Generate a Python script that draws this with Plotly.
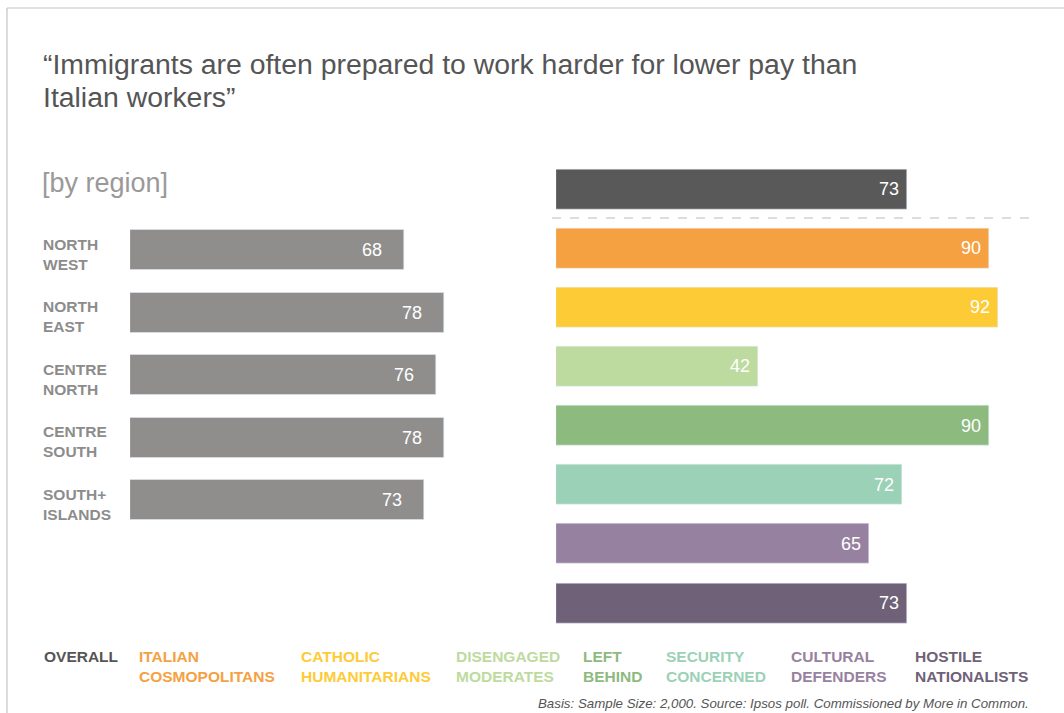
import plotly.graph_objects as go

W, H = 1064, 713

# ---- data ----
regions = ["NORTH<br>WEST", "NORTH<br>EAST", "CENTRE<br>NORTH", "CENTRE<br>SOUTH", "SOUTH+<br>ISLANDS"]
region_values = [68, 78, 76, 78, 73]

segments = ["OVERALL", "ITALIAN<br>COSMOPOLITANS", "CATHOLIC<br>HUMANITARIANS", "DISENGAGED<br>MODERATES",
            "LEFT<br>BEHIND", "SECURITY<br>CONCERNED", "CULTURAL<br>DEFENDERS", "HOSTILE<br>NATIONALISTS"]
segment_values = [73, 90, 92, 42, 90, 72, 65, 73]
segment_colors = ["#595959", "#f5a142", "#fdcb36", "#bddb9e", "#8dba7f", "#9bd1b6", "#9781a0", "#6f6178"]
legend_text_colors = ["#555555", "#f5a142", "#fdcb36", "#bddb9e", "#8dba7f", "#9bd1b6", "#9781a0", "#6f6178"]
legend_x_px = [42, 137, 299, 454, 581, 664, 789, 913]

region_color = "#8f8e8c"

title_lines = ["“Immigrants are often prepared to work harder for lower pay than", "Italian workers”"]
subtitle = "[by region]"
footnote = "Basis: Sample Size: 2,000. Source: Ipsos poll. Commissioned by More in Common."

FONT = "Liberation Sans, Arial, Helvetica, sans-serif"


def px_x(p):
    return p / W


def px_y(p):
    return 1 - p / H


fig = go.Figure()

fig.add_trace(go.Bar(
    x=region_values, y=regions, orientation="h", marker_color=region_color,
    width=0.64, xaxis="x", yaxis="y", hoverinfo="skip", showlegend=False,
))
fig.add_trace(go.Bar(
    x=segment_values, y=segments, orientation="h", marker_color=segment_colors,
    width=0.676, xaxis="x2", yaxis="y2", hoverinfo="skip", showlegend=False,
))

annotations = []
# value labels
for r, v in zip(regions, region_values):
    annotations.append(dict(x=v, y=r, xref="x", yref="y", text=str(v), showarrow=False,
                            xanchor="right", xshift=-20, yshift=0,
                            font=dict(family=FONT, size=18, color="white")))
for s, v in zip(segments, segment_values):
    annotations.append(dict(x=v, y=s, xref="x2", yref="y2", text=str(v), showarrow=False,
                            xanchor="right", xshift=-6, yshift=0,
                            font=dict(family=FONT, size=18, color="white")))
# region labels
for r in regions:
    annotations.append(dict(x=px_x(41), y=r, xref="paper", yref="y", text="<b>%s</b>" % r,
                            showarrow=False, xanchor="left", align="left", yshift=-4,
                            font=dict(family=FONT, size=15.5, color="#8c8c8c")))
# legend labels
for s, c, xp in zip(segments, legend_text_colors, legend_x_px):
    annotations.append(dict(x=px_x(xp), y=px_y(646), xref="paper", yref="paper", text="<b>%s</b>" % s,
                            showarrow=False, xanchor="left", yanchor="top", align="left",
                            font=dict(family=FONT, size=15.5, color=c)))
# title (two lines), subtitle, footnote
for i, line in enumerate(title_lines):
    annotations.append(dict(x=px_x(41), y=px_y(64 + 33 * i), xref="paper", yref="paper", text=line,
                            showarrow=False, xanchor="left", yanchor="middle", align="left",
                            font=dict(family=FONT, size=28.4, color="#555555")))
annotations.append(dict(x=px_x(40), y=px_y(183), xref="paper", yref="paper", text=subtitle,
                        showarrow=False, xanchor="left", yanchor="middle", align="left",
                        font=dict(family=FONT, size=27, color="#999999")))
annotations.append(dict(x=px_x(1031), y=px_y(703), xref="paper", yref="paper", text="<i>%s</i>" % footnote,
                        showarrow=False, xanchor="right", yanchor="middle", align="right",
                        font=dict(family=FONT, size=13.3, color="#555555")))

shapes = [
    # frame
    dict(type="line", xref="paper", yref="paper", x0=px_x(7), x1=1.01, y0=px_y(8), y1=px_y(8),
         line=dict(color="#c4c4c4", width=1.2)),
    dict(type="line", xref="paper", yref="paper", x0=px_x(7), x1=px_x(7), y0=px_y(8), y1=-0.01,
         line=dict(color="#c4c4c4", width=1.2)),
    # dashed separator
    dict(type="line", xref="paper", yref="paper", x0=px_x(552), x1=px_x(1031), y0=px_y(218), y1=px_y(218),
         line=dict(color="#bbbbbb", width=1.2, dash="dash")),
]

left_x0, left_x1 = 130, 530
right_x0, right_x1 = 556, 1040
left_scale = (444 - 130) / 78.0
right_scale = (907 - 556) / 73.0

fig.update_layout(
    width=W, height=H, margin=dict(l=0, r=0, t=0, b=0),
    paper_bgcolor="white", plot_bgcolor="white",
    showlegend=False, bargap=0,
    xaxis=dict(domain=[px_x(left_x0), px_x(left_x1)], range=[0, (left_x1 - left_x0) / left_scale],
               visible=False, fixedrange=True),
    yaxis=dict(domain=[px_y(531.25), px_y(218.75)], type="category", categoryarray=regions,
               range=[len(regions) - 0.5, -0.5], visible=False, fixedrange=True),
    xaxis2=dict(domain=[px_x(right_x0), px_x(right_x1)], range=[0, (right_x1 - right_x0) / right_scale],
                visible=False, fixedrange=True, anchor="y2"),
    yaxis2=dict(domain=[px_y(632.6), px_y(159.4)], type="category", categoryarray=segments,
                range=[len(segments) - 0.5, -0.5], visible=False, fixedrange=True, anchor="x2"),
    annotations=annotations, shapes=shapes,
)

fig.write_html("out.html", config={"displayModeBar": False},
               post_script="document.body.style.margin='0px';document.body.style.overflow='hidden';")
